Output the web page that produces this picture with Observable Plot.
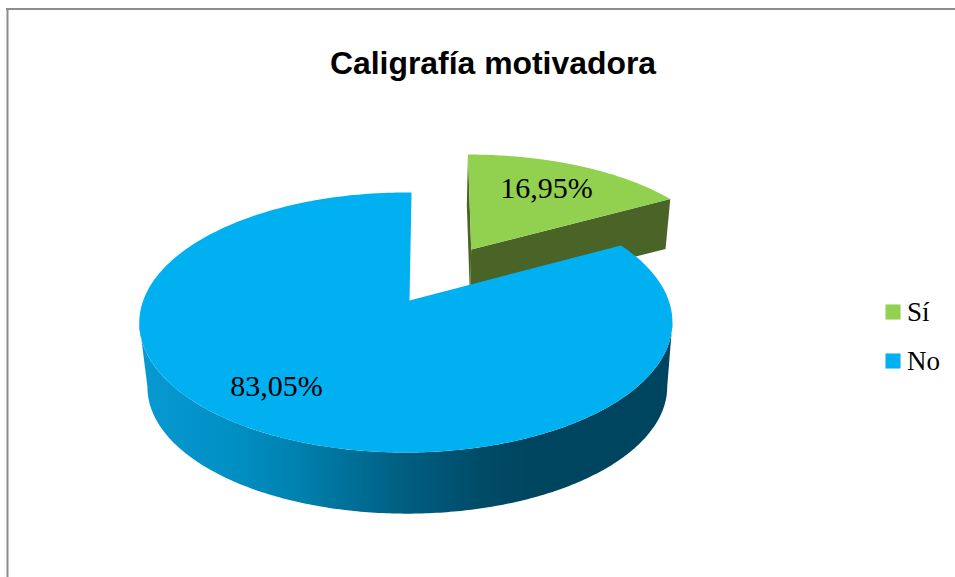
<!DOCTYPE html>
<html>
<head>
<meta charset="utf-8">
<style>html,body{margin:0;padding:0;background:#fff}svg{display:block}</style>
<script src="https://cdn.jsdelivr.net/npm/d3@7"></script>
<script src="https://cdn.jsdelivr.net/npm/@observablehq/plot@0.6"></script>
</head>
<body>
<div id="chart"></div>
<script>
const chartTitle = "Caligrafía motivadora";
const categories = ["Sí", "No"];
const shares = [16.95, 83.05];
const topColors = ["#92D050", "#00B0F0"];
const wallColor = "#4A6327";

// Perspective of the tilted pie plane
const k = 0.169, tiltX = 0.08;
const greenTop  = {ax: 470.7, ay: 249, A: 251.5, B: 111,   d: -0.015};
const greenBase = {ax: 469.5, ay: 298, A: 247,   B: 109.1, d: -0.015};
const blueTop   = {ax: 409,   ay: 300, A: 262.7, B: 126.3, d: 0.009};
const blueBase  = {ax: 410.4, ay: 365, A: 256.1, B: 123.1, d: 0.009};

function project(p, t) {
  const a = t + p.d, X = Math.sin(a), D = Math.cos(a), w = 1 + k * (D + tiltX * X);
  return {x: p.ax + p.A * X / w, y: p.ay - p.B * D / w};
}
function arc(p, t0, t1, n = 240) {
  return d3.range(n + 1).map(i => project(p, t0 + (t1 - t0) * i / n));
}
const turn = 2 * Math.PI;
const boundary = shares[0] / 100 * turn;

// Faces, all derived from the shares
const apex = p => ({x: p.ax, y: p.ay});
const face = (id, pts) => pts.map(d => ({...d, id}));

const greenLeftWall = face("gl", [project(greenTop, 0), apex(greenTop), apex(greenBase), project(greenBase, 0)]);
const greenCutWall = face("gc", [project(greenTop, boundary), apex(greenTop), apex(greenBase), project(greenBase, boundary)]);
const greenFace = face("gt", [apex(greenTop), ...arc(greenTop, 0, boundary)]);
const blueFace = face("bt", [apex(blueTop), ...arc(blueTop, boundary, turn)]);

// Visible outer wall: between the horizontal extremes of the rim
const rim = arc(blueTop, boundary, turn, 1200);
const tAt = i => boundary + (turn - boundary) * i / 1200;
const tRight = tAt(d3.greatestIndex(rim, d => d.x));
const tLeft = tAt(d3.leastIndex(rim, d => d.x));
const blueWall = face("bw", [...arc(blueTop, tRight, tLeft), ...arc(blueBase, tLeft, tRight)]);

const wallStops = [
  [147, "#0798D2"], [230, "#0090C4"], [300, "#0080AD"], [400, "#005F82"],
  [480, "#004C68"], [530, "#00455F"], [667, "#00455F"]
];
const defs = (index, {x}) => {
  const svgDefs = d3.create("svg:defs");
  const g = svgDefs.append("linearGradient").attr("id", "blueWallGrad")
    .attr("gradientUnits", "userSpaceOnUse")
    .attr("x1", x(147)).attr("x2", x(667)).attr("y1", 0).attr("y2", 0);
  wallStops.forEach(([p, c]) => g.append("stop").attr("offset", (p - 147) / 520).attr("stop-color", c));
  return svgDefs.node();
};

const poly = (pts, fill) => Plot.line(pts, {x: "x", y: "y", fill, stroke: null, curve: "linear"});
const serif = "Liberation Serif";
const pct = v => v.toFixed(2).replace(".", ",") + "%";
const labelPos = [{x: 546, y: 197}, {x: 276, y: 395}];
const labels = categories.map((c, i) => ({text: pct(shares[i]), ...labelPos[i]}));
const legend = categories.map((c, i) => ({c, i, color: topColors[i], y: 311.5 + 49 * i}));

const plot = Plot.plot({
  width: 955, height: 577,
  margin: 0,
  x: {domain: [0, 955], range: [0, 955], axis: null},
  y: {domain: [0, 577], range: [0, 577], axis: null},
  style: {background: "#fff"},
  marks: [
    defs,
    Plot.ruleX([7], {y1: 8, y2: 577, stroke: "#8C8C8C", strokeWidth: 2}),
    Plot.ruleY([8.5], {x1: 6, x2: 955, stroke: "#8C8C8C", strokeWidth: 2}),
    poly(greenCutWall, wallColor),
    poly(greenLeftWall, wallColor),
    poly(greenFace, topColors[0]),
    poly(blueWall, "url(#blueWallGrad)"),
    poly(blueFace, topColors[1]),
    Plot.text([chartTitle], {x: 492.5, y: 73, text: d => d, textAnchor: "middle", lineAnchor: "bottom",
      fontFamily: "Liberation Sans", fontWeight: "bold", fontSize: 31.9, fill: "#000"}),
    Plot.text(labels, {x: "x", y: "y", text: "text", textAnchor: "middle", lineAnchor: "bottom",
      fontFamily: serif, fontSize: 30, fill: "#000"}),
    Plot.dot(legend, {x: 892.5, y: "y", symbol: "square", r: 8.5, fill: "color", stroke: null}),
    Plot.text(legend, {x: 906.5, y: d => d.y + 8.5, text: "c", textAnchor: "start", lineAnchor: "bottom",
      fontFamily: serif, fontSize: 27, fill: "#000"})
  ]
});
document.getElementById("chart").append(plot);
</script>
</body>
</html>
